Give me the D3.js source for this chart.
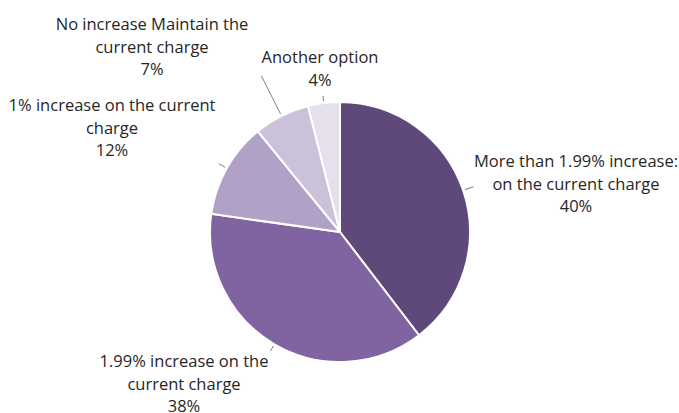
<!DOCTYPE html>
<html>
<head>
<meta charset="utf-8">
<script src="https://cdn.jsdelivr.net/npm/d3@7"></script>
<style>
  body { margin: 0; background: #fff; }
  text { font-family: "Open Sans", Lato, sans-serif; font-size: 16.5px; fill: #262626; }
</style>
</head>
<body>
<div id="chart"></div>
<script>
var WD = 679, HT = 413
var cx = 340, cy = 232, radius = 130

// data, clockwise from 12 o'clock
var categories = [
  ["More than 1.99% increase:", "on the current charge"],
  ["1.99% increase on the", "current charge"],
  ["1% increase on the current", "charge"],
  ["No increase Maintain the", "current charge"],
  ["Another option"]
]
var values = [40, 38, 12, 7, 4]
var valueLabels = ["40%", "38%", "12%", "7%", "4%"]

var color = ['#5f497a', '#8064a2', '#b2a1c7', '#ccc1da', '#e5e0ec']
// label layout (offset of label block centre from pie centre) and leader lengths
var labelOffsets = [[236, -48], [-156, 152], [-228, -104], [-188, -185], [-20, -163.5]]
var leaderLen = [9, 6, 7, 43, 5]

var pie = d3.pie().sort(null).value(function(d){ return d; })
var arc = d3.arc().innerRadius(0).outerRadius(radius)

var svg = d3.select("#chart")
            .append("svg")
                .attr("width", WD)
                .attr("height", HT)
            .append("g")
                .attr("transform", "translate(" + cx + "," + cy + ")")

var arcs = pie(values)

svg.selectAll('path')
  .data(arcs)
  .enter()
  .append('path')
      .attr("d", arc)
      .attr("fill", function(d, i){ return color[i]; })
      .attr("stroke", "#fff")
      .attr("stroke-width", 2)
      .attr("stroke-linejoin", "round")

// leader lines
svg.selectAll('line.leader')
  .data(arcs)
  .enter()
  .append('line')
      .attr("class", "leader")
      .each(function(d, i){
        var a = (d.startAngle + d.endAngle) / 2
        var r0 = radius + 2, r1 = radius + 2 + leaderLen[i]
        d3.select(this)
          .attr("x1", r0 * Math.sin(a)).attr("y1", -r0 * Math.cos(a))
          .attr("x2", r1 * Math.sin(a)).attr("y2", -r1 * Math.cos(a))
      })
      .attr("stroke", "#7f7f7f")
      .attr("stroke-width", 1)

// labels
var lineH = 22.5
svg.selectAll('text.lbl')
  .data(arcs)
  .enter()
  .append('text')
      .attr("class", "lbl")
      .attr("text-anchor", "middle")
      .each(function(d, i){
        var lines = categories[i].concat([valueLabels[i]])
        var x = labelOffsets[i][0]
        var y0 = labelOffsets[i][1] - (lines.length - 1) * lineH / 2
        var t = d3.select(this)
        lines.forEach(function(s, k){
          t.append("tspan")
            .attr("x", x)
            .attr("y", y0 + k * lineH)
            .attr("dy", "0.35em")
            .text(s)
        })
      })
</script>
</body>
</html>
